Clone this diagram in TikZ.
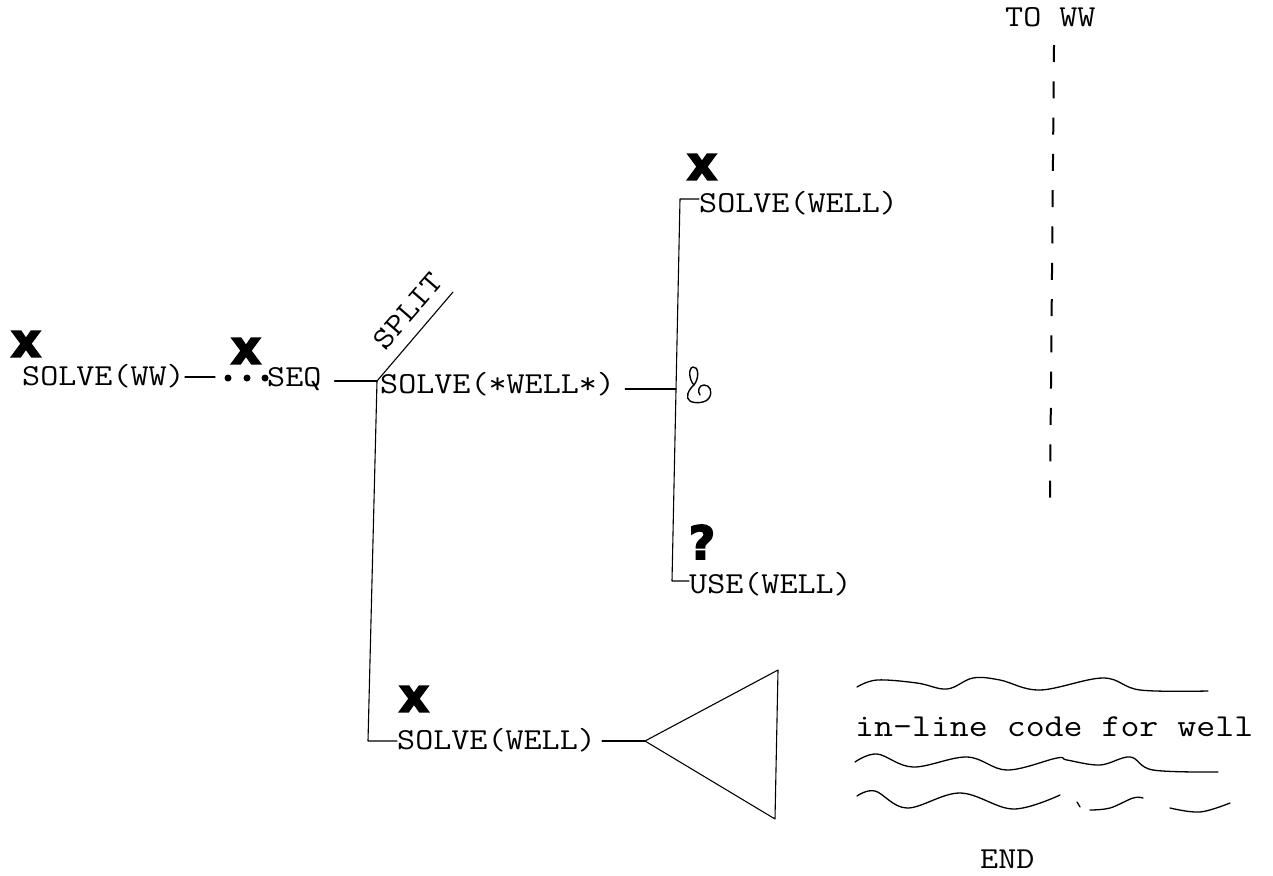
\documentclass[tikz,border=0pt]{standalone}
\usepackage{fontspec}
\newfontfamily\mono[FakeStretch=1.15]{Latin Modern Mono}
\newfontfamily\markfont[FakeBold=3.5]{DejaVu Sans Bold}
\begin{document}
\begin{tikzpicture}[x=1pt,y=-1pt,
  lbl/.style={font=\mono\fontsize{30.5}{30.5}\selectfont, inner sep=0pt, anchor=base west},
  biglbl/.style={lbl, font=\mono\fontsize{32}{32}\selectfont},
  xmark/.style={font=\markfont\fontsize{47}{47}\selectfont, inner sep=0pt},
  qmark/.style={font=\markfont\fontsize{46}{46}\selectfont, inner sep=0pt},
  seqdot/.style={circle, fill=black, inner sep=0pt, minimum size=7pt},
  wire/.style={line width=1.1pt, line cap=round, line join=round},
  wave/.style={line width=1.3pt, line cap=round, line join=round}]
\useasboundingbox (0,0) rectangle (1273,875);

% --- goal and sequence ---
\node[xmark] (xww) at (26,344) {x};
\node[lbl] (ww) at (22,385) {SOLVE(WW)};
\coordinate (wwend) at (215,377);
\draw[wire] (ww.east |- wwend) -- (wwend);
\node[seqdot] (d1) at (228,378) {};
\node[seqdot] (d2) at (247,378) {};
\node[seqdot] (d3) at (265,378) {};
\node[xmark] (xseq) at (246,351) {x};
\node[lbl] (seq) at (267,386) {SEQ};

% --- split point ---
\coordinate (j) at (377,381);
\coordinate (sp) at (453,292);
\coordinate (jb) at (368,741);
\draw[wire] ([xshift=13pt]seq.east |- j) -- (j);
\draw[wire] (j) -- (sp);
\node[lbl, anchor=center, rotate=49] (split) at (408,311) {SPLIT};

% --- upper branch ---
\node[lbl] (swell) at (380,393) {SOLVE(*WELL*)};
\coordinate (amp) at (676,389);
\draw[wire] ([xshift=10pt]swell.east |- amp) -- (amp);
\coordinate (rt) at (680,199);
\coordinate (rb) at (672,581);
\node[xmark] (xtop) at (702,167) {x};
\node[lbl] (tsolve) at (699,212) {SOLVE(WELL)};
\node[qmark] (q) at (702,542) {?};
\node[lbl] (use) at (689,593) {USE(WELL)};
\draw[wire] (tsolve.west |- rt) -- (rt) -- (rb) -- (use.west |- rb);
% hand-written ampersand
\draw[line width=1.4pt, line cap=round, line join=round]
  (694,385) .. controls (689,380) and (688,368) .. (693,367)
  .. controls (698,366) and (700,377) .. (694,385)
  .. controls (688,390) and (685,398) .. (690,401)
  .. controls (695,404) and (706,403) .. (709,398)
  .. controls (713,392) and (710,385) .. (704,385)
  .. controls (699,385) and (697,391) .. (700,395);

% --- lower branch ---
\node[xmark] (xbot) at (414,699) {x};
\node[lbl] (bsolve) at (397,749) {SOLVE(WELL)};
\draw[wire] (j) -- (jb) -- (bsolve.west |- jb);
\coordinate (tl) at (645,741);
\coordinate (tt) at (778,670);
\coordinate (tb) at (775,819);
\draw[wire] ([xshift=6pt]bsolve.east |- tl) -- (tl);
\draw[wire] (tl) -- (tt) -- (tb) -- cycle;

% --- in-line code block ---
\draw[wave] plot[smooth, tension=0.6] coordinates {(857,687) (877,680) (917,683) (947,689) (973,678) (1000,680) (1040,690) (1103,678) (1140,690) (1208,691)};
\node[biglbl] (code) at (855,736) {in-line code for well};
\draw[wave] plot[smooth, tension=0.6] coordinates {(855,762) (877,754) (913,767) (967,757) (1007,770) (1057,758) (1067,760) (1100,765) (1130,757) (1153,770) (1218,772)};
\draw[wave] plot[smooth, tension=0.6] coordinates {(857,796) (875,791) (907,808) (960,793) (1013,809) (1060,795)};
\draw[wave] (1077,802) -- (1080,807);
\draw[wave] plot[smooth, tension=0.6] coordinates {(1090,810) (1110,808) (1133,798) (1143,798)};
\draw[wave] plot[smooth, tension=0.6] coordinates {(1170,808) (1200,812) (1230,803)};
\node[lbl] (endl) at (980,868) {END};

% --- return path ---
\node[lbl] (toww) at (1005,27) {TO WW};
\coordinate (dtop) at (1054,45);
\coordinate (dbot) at (1050,498);
\draw[line width=2pt, dash pattern=on 17pt off 19.3pt] (dtop) -- (dbot);
\end{tikzpicture}
\end{document}
